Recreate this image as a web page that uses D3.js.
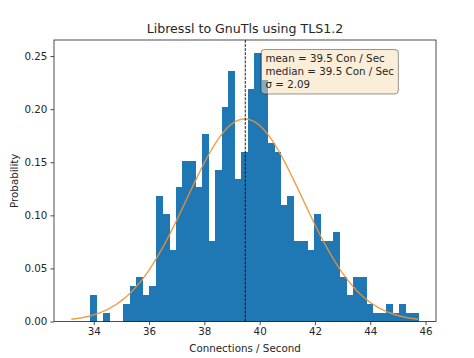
<!DOCTYPE html>
<html><head><meta charset="utf-8">
<script src="https://cdn.jsdelivr.net/npm/d3@7"></script>
<style>
html,body{margin:0;padding:0;background:#fff;}
svg{display:block;font-family:"DejaVu Sans",sans-serif;}
</style></head>
<body>
<svg id="chart" width="474" height="358"></svg>
<script>
// ---- data ----
const binCounts = [3,0,1,0,0,2,4,5,3,4,14,12,8,15,18,18,15,21,9,17,24,28,16,19,26,30,27,20,19,13,14,9,9,8,12,9,9,10,5,3,5,5,2,1,1,2,1,2,1,1];
const histMin = 33.87;
const histMax = 45.75;
const nSamples = 500;
const mu = 39.46;
const sigma = 2.09;
const medianValue = 39.48;
const xTicks = [34, 36, 38, 40, 42, 44, 46];
const yTicks = [0.00, 0.05, 0.10, 0.15, 0.20, 0.25];
const statLines = ["mean = 39.5 Con / Sec", "median = 39.5 Con / Sec", "\u03c3 = 2.09"];
const title = "Libressl to GnuTls using TLS1.2";
const xLabel = "Connections / Second";
const yLabel = "Probability";

// ---- layout ----
const M = {left: 54, right: 436, top: 40, bottom: 321.5};
const svg = d3.select("#chart");

const nb = binCounts.length;
const bw = (histMax - histMin) / nb;
const bins = binCounts.map((c, i) => ({x0: histMin + i * bw, x1: histMin + (i + 1) * bw, d: c / (nSamples * bw)}));

const curveLo = mu - 3 * sigma, curveHi = mu + 3 * sigma;
const dLo = Math.min(curveLo, histMin), dHi = Math.max(curveHi, histMax);
const pad = 0.05 * (dHi - dLo);
const x = d3.scaleLinear().domain([dLo - pad, dHi + pad]).range([M.left, M.right]);
const maxD = d3.max(bins, b => b.d);
const y = d3.scaleLinear().domain([0, maxD * 1.05]).range([M.bottom, M.top]);

// bars
svg.append("g").attr("shape-rendering", "crispEdges")
  .selectAll("rect").data(bins.filter(b => b.d > 0)).join("rect")
  .attr("x", b => x(b.x0))
  .attr("width", b => x(b.x1) - x(b.x0) + 0.6)
  .attr("y", b => y(b.d))
  .attr("height", b => y(0) - y(b.d))
  .attr("fill", "#1f77b4");

// normal pdf curve
const pdf = v => Math.exp(-0.5 * ((v - mu) / sigma) ** 2) / (sigma * Math.sqrt(2 * Math.PI));
const pts = d3.range(0, 101).map(i => curveLo + (curveHi - curveLo) * i / 100);
svg.append("path")
  .attr("d", d3.line().x(v => x(v)).y(v => y(pdf(v)))(pts))
  .attr("fill", "none").attr("stroke", "#ec9235").attr("stroke-width", 1.4).attr("opacity", 0.9);

// median dashed line
svg.append("line")
  .attr("x1", x(medianValue)).attr("x2", x(medianValue))
  .attr("y1", M.top).attr("y2", M.bottom)
  .attr("stroke", "#000").attr("stroke-width", 0.9).attr("stroke-dasharray", "2.8,1.3");

// axes
const xAxis = d3.axisBottom(x).tickValues(xTicks).tickSize(3.6).tickPadding(3).tickFormat(d3.format("d"));
const yAxis = d3.axisLeft(y).tickValues(yTicks).tickSize(3.6).tickPadding(3).tickFormat(d3.format(".2f"));
const gx = svg.append("g").attr("transform", `translate(0,${M.bottom})`).call(xAxis);
const gy = svg.append("g").attr("transform", `translate(${M.left},0)`).call(yAxis);
[gx, gy].forEach(g => {
  g.select(".domain").remove();
  g.selectAll("line").attr("stroke", "#222").attr("stroke-width", 0.8);
  g.selectAll("text").attr("fill", "#262626").style("font-size", "10.3px").style("font-family", "DejaVu Sans");
});

// frame
svg.append("rect").attr("x", M.left).attr("y", M.top)
  .attr("width", M.right - M.left).attr("height", M.bottom - M.top)
  .attr("fill", "none").attr("stroke", "#222").attr("stroke-width", 0.8);

// stats box
const bx = 261, by = 49.5;
const box = svg.append("g");
const tg = box.append("g");
statLines.forEach((s, i) => {
  tg.append("text").attr("x", bx + 4.5).attr("y", by + 12 + i * 13.3)
    .style("font-size", "10.3px").attr("fill", "#262626").text(s);
});
const bb = tg.node().getBBox();
box.insert("rect", ":first-child")
  .attr("x", bx).attr("y", by)
  .attr("width", bb.x + bb.width + 4 - bx).attr("height", 44.5)
  .attr("rx", 3.5).attr("ry", 3.5)
  .attr("fill", "#f5deb3").attr("fill-opacity", 0.5)
  .attr("stroke", "#000").attr("stroke-opacity", 0.45).attr("stroke-width", 0.9);

// titles
svg.append("text").attr("x", (M.left + M.right) / 2).attr("y", 33)
  .attr("text-anchor", "middle").style("font-size", "12.6px").attr("fill", "#262626").text(title);
svg.append("text").attr("x", (M.left + M.right) / 2).attr("y", 352)
  .attr("text-anchor", "middle").style("font-size", "10.3px").attr("fill", "#262626").text(xLabel);
svg.append("text").attr("transform", `translate(18,${(M.top + M.bottom) / 2}) rotate(-90)`)
  .attr("text-anchor", "middle").style("font-size", "10.3px").attr("fill", "#262626").text(yLabel);
</script>
</body></html>
